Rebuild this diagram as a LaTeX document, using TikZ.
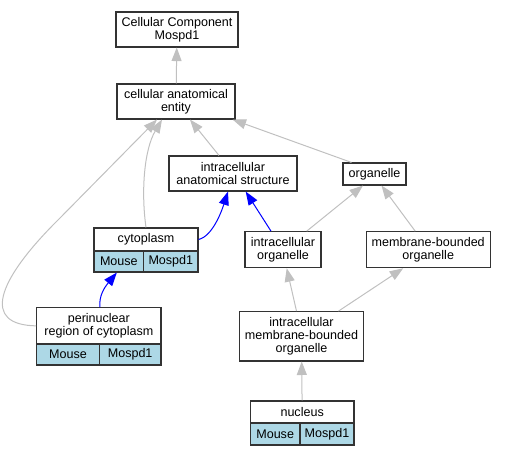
\documentclass[tikz,border=0pt]{standalone}
\usepackage{fontspec}
\setmainfont{Liberation Sans}
\usepackage{tikz}
\usetikzlibrary{arrows.meta}

\definecolor{gobg}{RGB}{173,216,230}
\definecolor{isagray}{RGB}{192,192,192}

\begin{document}
\begin{tikzpicture}[x=1bp,y=-1bp,>={Triangle[length=13.5bp,width=10bp]},
    term/.style={draw=black!80,line width=1.1bp,fill=white,align=center,inner sep=0pt,
      font=\fontsize{12.6}{12.8}\selectfont},
    cell/.style={term,fill=gobg},
    isa/.style={->,draw=isagray,line width=1bp},
    partof/.style={->,draw=blue,line width=1bp}]

        \useasboundingbox (0,0) rectangle (505,456);

        % terms
        \node[term,minimum width=122bp,minimum height=35bp] (cc) at (177,29.5) {Cellular Component\\Mospd1};
        \node[term,minimum width=118bp,minimum height=35bp] (cae) at (176,101.5) {cellular anatomical\\entity};
        \node[term,minimum width=128bp,minimum height=35bp] (ias) at (233,173.5) {intracellular\\anatomical structure};
        \node[term,minimum width=63bp,minimum height=22bp] (org) at (374.5,174) {organelle};
        \node[term,minimum width=76bp,minimum height=36bp] (io) at (283,249.7) {intracellular\\organelle};
        \node[term,minimum width=123.7bp,minimum height=36bp] (mbo) at (428.2,249.7) {membrane-bounded\\organelle};
        \node[term,minimum width=123.6bp,minimum height=49.3bp] (imbo) at (301.5,336.3) {intracellular\\membrane-bounded\\organelle};

        % annotated terms
        \node[term,minimum width=104bp,minimum height=23bp] (cyto) at (146,239.5) {cytoplasm};
        \node[cell,minimum width=49.7bp,minimum height=21bp] (cytoM) at (118.85,261.5) {Mouse};
        \node[cell,minimum width=54.3bp,minimum height=21bp] (cytoG) at (170.85,261.5) {Mospd1};

        \node[term,minimum width=124.3bp,minimum height=36.3bp] (peri) at (98.85,325.85) {perinuclear\\region of cytoplasm};
        \node[cell,minimum width=62.6bp,minimum height=21bp] (periM) at (68,354.5) {Mouse};
        \node[cell,minimum width=61.7bp,minimum height=21bp] (periG) at (130.15,354.5) {Mospd1};

        \node[term,minimum width=103.7bp,minimum height=22bp] (nuc) at (302.15,412) {nucleus};
        \node[cell,minimum width=49.7bp,minimum height=22bp] (nucM) at (275.15,434) {Mouse};
        \node[cell,minimum width=54bp,minimum height=22bp] (nucG) at (327,434) {Mospd1};

        % is_a
        \draw[isa] (cae) -- (cc);
        \draw[isa] ([xshift=-14bp]ias.north) -- ([xshift=14bp]cae.south);
        \draw[isa] ([xshift=-23bp]org.north) -- ([xshift=-3bp]cae.south east);
        \draw[isa] (cyto.north) .. controls (141,192) and (144,150) .. ([xshift=-14bp]cae.south);
        \draw[isa] (peri.west) .. controls (-18,325) and (-5,282) .. (60,218) -- ([xshift=-19bp]cae.south);
        \draw[isa] ([xshift=23.7bp]io.north) -- ([xshift=-11.5bp]org.south);
        \draw[isa] ([xshift=-13bp]mbo.north) -- ([xshift=7bp]org.south);
        \draw[isa] ([xshift=-5bp]imbo.north) -- ([xshift=3.7bp]io.south);
        \draw[isa] ([xshift=37bp]imbo.north) -- ([xshift=-25bp]mbo.south);
        \draw[isa] (nuc) -- (imbo);

        % part_of
        \draw[partof] (cyto.east) .. controls (213,236) and (222,210) .. ([xshift=-5bp]ias.south);
        \draw[partof] ([xshift=-12bp]io.north) -- ([xshift=12.7bp]ias.south);
        \draw[partof] ([xshift=1bp]peri.north) .. controls (99,296) and (104,288) .. ([xshift=-2bp]cytoM.south);
\end{tikzpicture}
\end{document}
